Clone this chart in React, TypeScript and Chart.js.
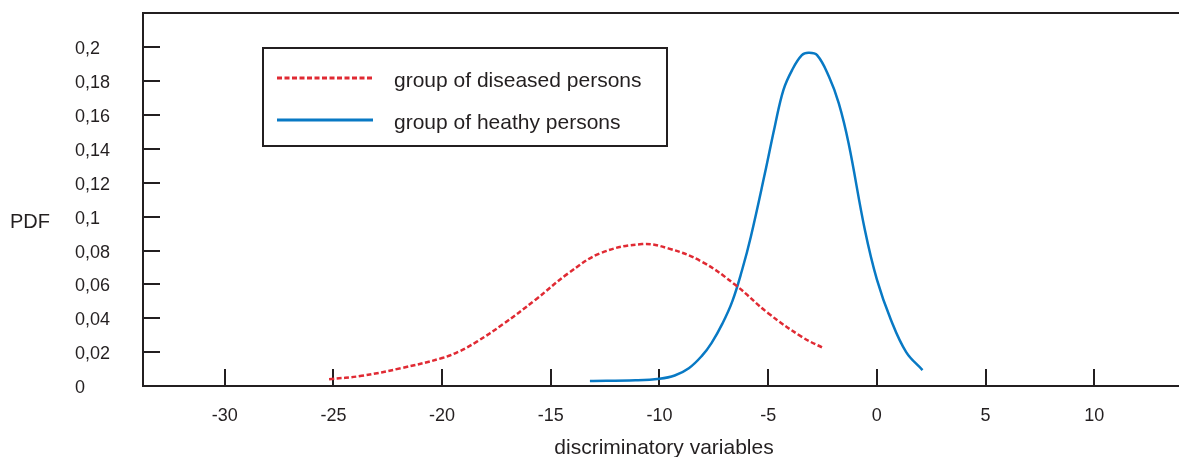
import React, { useEffect, useRef } from 'react';
import { Chart, registerables } from 'chart.js';

Chart.register(...registerables);

// ---- data ----
const diseasedX = [-25.2, -23.7, -21.9, -20, -19.2, -18.4, -17.2, -15.7, -14.2, -12.7, -10.8, -9.6, -8.05, -6.5, -5.0, -3.45, -2.45];
const diseasedY = [0.004, 0.006, 0.0105, 0.0165, 0.0205, 0.0262, 0.0365, 0.051, 0.0665, 0.0785, 0.0838, 0.0813, 0.0734, 0.0596, 0.043, 0.029, 0.0223];

const healthyX = [-13.2, -11.1, -10, -9.3, -8.65, -8.05, -7.6, -7.1, -6.65, -6.2, -5.8, -5.15, -4.7, -4.3, -3.9, -3.45, -3.15, -2.75, -2.2, -1.75, -1.3, -0.55, 0, 0.65, 1.35, 2.1];
const healthyY = [0.003, 0.0034, 0.0043, 0.0062, 0.0105, 0.0178, 0.0255, 0.037, 0.05, 0.0685, 0.088, 0.1256, 0.153, 0.1748, 0.1866, 0.1954, 0.1968, 0.1954, 0.1826, 0.1669, 0.1433, 0.0921, 0.063, 0.039, 0.02, 0.0094];

const xTickValues = [-30, -25, -20, -15, -10, -5, 0, 5, 10];
const yTickValues = [0, 0.02, 0.04, 0.06, 0.08, 0.1, 0.12, 0.14, 0.16, 0.18, 0.2];

const seriesLabels = ['group of diseased persons', 'group of heathy persons'];
const xTitle = 'discriminatory variables';
const yTitle = 'PDF';

// ---- styles ----
const INK = '#231f20';
const FONT = '"Liberation Sans", Arial, Helvetica, sans-serif';
const RED = '#e02a33';
const BLUE = '#0879c4';

const decorPlugin = {
  id: 'decor',
  beforeDatasetsDraw(chart: any) {
    const { ctx, chartArea: a, scales } = chart;
    const x = scales.x;
    const y = scales.y;
    ctx.save();
    ctx.strokeStyle = INK;
    ctx.lineWidth = 2;
    ctx.beginPath();
    ctx.moveTo(a.right + 2, a.top);
    ctx.lineTo(a.left, a.top);
    ctx.lineTo(a.left, a.bottom);
    ctx.lineTo(a.right + 2, a.bottom);
    ctx.stroke();
    for (const v of yTickValues) {
      if (v === 0) continue;
      const py = Math.round(y.getPixelForValue(v));
      ctx.beginPath();
      ctx.moveTo(a.left, py);
      ctx.lineTo(a.left + 17, py);
      ctx.stroke();
    }
    for (const v of xTickValues) {
      const px = Math.round(x.getPixelForValue(v));
      ctx.beginPath();
      ctx.moveTo(px, a.bottom);
      ctx.lineTo(px, a.bottom - 17);
      ctx.stroke();
    }
    ctx.restore();
  },
  afterDraw(chart: any) {
    const { ctx, chartArea: a } = chart;
    ctx.save();
    ctx.fillStyle = INK;
    ctx.textAlign = 'left';
    ctx.textBaseline = 'alphabetic';
    ctx.font = `20px ${FONT}`;
    ctx.fillText(yTitle, 10, 228);
    ctx.textAlign = 'center';
    ctx.font = `21px ${FONT}`;
    ctx.fillText(xTitle, (a.left + a.right) / 2 + 3, 454);

    // legend box
    const bx = 263, by = 48, bw = 404, bh = 98;
    ctx.fillStyle = '#ffffff';
    ctx.fillRect(bx, by, bw, bh);
    ctx.strokeStyle = INK;
    ctx.lineWidth = 2;
    ctx.strokeRect(bx, by, bw, bh);
    const rows = [78, 120];
    chart.data.datasets.forEach((ds: any, i: number) => {
      const ly = rows[i];
      ctx.save();
      ctx.strokeStyle = ds.borderColor;
      ctx.lineWidth = 3;
      ctx.setLineDash(ds.borderDash || []);
      ctx.beginPath();
      ctx.moveTo(277, ly);
      ctx.lineTo(373, ly);
      ctx.stroke();
      ctx.restore();
      ctx.fillStyle = INK;
      ctx.textAlign = 'left';
      ctx.font = `21px ${FONT}`;
      ctx.fillText(ds.label, 394, ly + 9);
    });
    ctx.restore();
  },
};

export default function App() {
  const ref = useRef<HTMLCanvasElement | null>(null);
  useEffect(() => {
    if (!ref.current) return;
    const chart = new Chart(ref.current, {
      type: 'line',
      data: {
        datasets: [
          {
            label: seriesLabels[0],
            data: diseasedX.map((v, i) => ({ x: v, y: diseasedY[i] })),
            borderColor: RED,
            borderWidth: 2.5,
            borderDash: [5, 2.5],
            pointRadius: 0,
            fill: false,
            tension: 0.4,
          },
          {
            label: seriesLabels[1],
            data: healthyX.map((v, i) => ({ x: v, y: healthyY[i] })),
            borderColor: BLUE,
            borderWidth: 2.5,
            pointRadius: 0,
            fill: false,
            tension: 0.4,
          },
        ],
      },
      options: {
        animation: false,
        responsive: false,
        devicePixelRatio: 1,
        layout: { padding: { left: 75, top: 13, right: 0, bottom: 0 } },
        plugins: { legend: { display: false }, tooltip: { enabled: false } },
        scales: {
          x: {
            type: 'linear',
            min: -33.76,
            max: 13.9,
            grid: { display: false, drawTicks: false },
            border: { display: false },
            ticks: {
              color: INK,
              font: { family: FONT, size: 18 },
              padding: 19,
              maxRotation: 0,
              autoSkip: false,
            },
            afterBuildTicks: (s: any) => {
              s.ticks = xTickValues.map((v) => ({ value: v }));
            },
            afterFit: (s: any) => {
              s.height = 71;
              s.paddingLeft = 0;
              s.paddingRight = 0;
            },
          },
          y: {
            type: 'linear',
            min: 0,
            max: 0.2203,
            grid: { display: false, drawTicks: false },
            border: { display: false },
            ticks: {
              color: INK,
              font: { family: FONT, size: 18 },
              crossAlign: 'far',
              padding: 0,
              labelOffset: 2,
              autoSkip: false,
              callback: (v: any) => String(v).replace('.', ','),
            },
            afterBuildTicks: (s: any) => {
              s.ticks = yTickValues.map((v) => ({ value: v }));
            },
            afterFit: (s: any) => {
              s.width = 68;
              s.paddingTop = 0;
              s.paddingBottom = 0;
            },
          },
        },
      } as any,
      plugins: [decorPlugin],
    });
    return () => chart.destroy();
  }, []);
  return (
    <div style={{ position: 'fixed', left: 0, top: 0, width: 1179, height: 457, background: '#fff' }}>
      <canvas ref={ref} width={1179} height={457} style={{ display: 'block', width: 1179, height: 457 }} />
    </div>
  );
}
